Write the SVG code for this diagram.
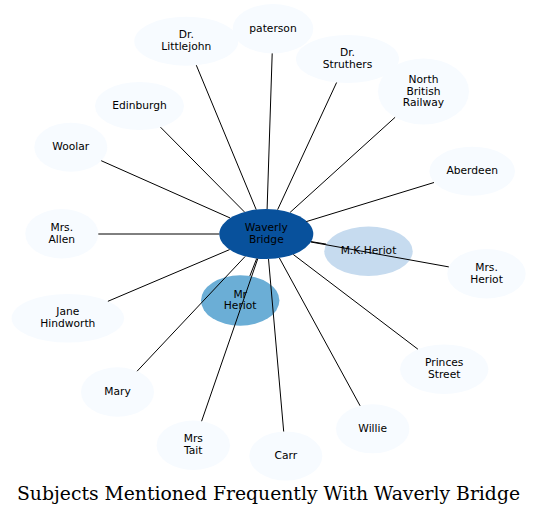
<svg xmlns="http://www.w3.org/2000/svg" width="537" height="516" viewBox="0 0 537 516">
<style>
.n ellipse{fill:#f7fbff;stroke:none}
.n text{font-family:"DejaVu Sans",sans-serif;font-size:10.7px;fill:#000;text-anchor:middle}
#edges line{stroke:#000;stroke-width:1}
.title{font-family:"DejaVu Serif",serif;font-size:18px;fill:#000;text-anchor:middle}
</style>
<rect width="537" height="516" fill="#fff"/>
<g id="n_littlejohn" class="n"><ellipse cx="186.3" cy="41.2" rx="52" ry="24.5"/><text x="186.3" y="38.3">Dr.</text><text x="186.3" y="50">Littlejohn</text></g>
<g id="n_paterson" class="n"><ellipse cx="273" cy="28.7" rx="40.3" ry="24.7"/><text x="273" y="31.7">paterson</text></g>
<g id="n_struthers" class="n"><ellipse cx="347.5" cy="59" rx="51.5" ry="24"/><text x="347.5" y="56.1">Dr.</text><text x="347.5" y="67.8">Struthers</text></g>
<g id="n_nbr" class="n"><ellipse cx="423.5" cy="91.5" rx="45.5" ry="33"/><text x="423.5" y="82.8">North</text><text x="423.5" y="94.5">British</text><text x="423.5" y="106.2">Railway</text></g>
<g id="n_edinburgh" class="n"><ellipse cx="139.5" cy="106" rx="44.5" ry="24"/><text x="139.5" y="109">Edinburgh</text></g>
<g id="n_woolar" class="n"><ellipse cx="70.8" cy="147.2" rx="36.5" ry="24.5"/><text x="70.8" y="150.2">Woolar</text></g>
<g id="n_aberdeen" class="n"><ellipse cx="472.2" cy="171.2" rx="42.8" ry="24.5"/><text x="472.2" y="174.2">Aberdeen</text></g>
<g id="n_allen" class="n"><ellipse cx="61.8" cy="233.7" rx="36.5" ry="24.7"/><text x="61.8" y="230.8">Mrs.</text><text x="61.8" y="242.5">Allen</text></g>
<g id="n_mrsheriot" class="n"><ellipse cx="486.5" cy="273.7" rx="39.2" ry="24.7"/><text x="486.5" y="270.8">Mrs.</text><text x="486.5" y="282.5">Heriot</text></g>
<g id="n_hindworth" class="n"><ellipse cx="67.8" cy="318.3" rx="56.2" ry="24.3"/><text x="67.8" y="315.4">Jane</text><text x="67.8" y="327.1">Hindworth</text></g>
<g id="n_princes" class="n"><ellipse cx="444.2" cy="369.2" rx="44.2" ry="24.8"/><text x="444.2" y="366.3">Princes</text><text x="444.2" y="378">Street</text></g>
<g id="n_mary" class="n"><ellipse cx="117.5" cy="392" rx="36.5" ry="24.7"/><text x="117.5" y="395">Mary</text></g>
<g id="n_willie" class="n"><ellipse cx="372.7" cy="428.8" rx="36.7" ry="24.5"/><text x="372.7" y="431.8">Willie</text></g>
<g id="n_tait" class="n"><ellipse cx="193.3" cy="445.3" rx="36.7" ry="24.7"/><text x="193.3" y="442.4">Mrs</text><text x="193.3" y="454.1">Tait</text></g>
<g id="n_carr" class="n"><ellipse cx="285.8" cy="456" rx="36.5" ry="24.5"/><text x="285.8" y="459">Carr</text></g>
<g id="n_mkheriot" class="n"><ellipse cx="368.5" cy="251.3" rx="44.2" ry="24.7" style="fill:#c6dbef"/><text x="368.5" y="254.3">M.K.Heriot</text></g>
<g id="n_mrheriot" class="n"><ellipse cx="240.2" cy="300.5" rx="39.2" ry="25.2" style="fill:#6baed6"/><text x="240.2" y="297.6">Mr</text><text x="240.2" y="309.3">Heriot</text></g>
<g id="n_waverly" class="n"><ellipse cx="266.3" cy="234" rx="47" ry="25" style="fill:#08519c"/><text x="266.3" y="231.1">Waverly</text><text x="266.3" y="242.8">Bridge</text></g>
<g id="edges">
<line x1="256.2" y1="209.6" x2="196.3" y2="65.2"/>
<line x1="267.1" y1="209" x2="272.2" y2="53.4"/>
<line x1="277.6" y1="209.7" x2="336.6" y2="82.5"/>
<line x1="290.1" y1="212.4" x2="395.1" y2="117.3"/>
<line x1="244.4" y1="211.9" x2="160.5" y2="127.2"/>
<line x1="230.2" y1="218" x2="101.2" y2="160.7"/>
<line x1="219.3" y1="234" x2="98.3" y2="234"/>
<line x1="229.6" y1="249.6" x2="107.9" y2="301.3"/>
<line x1="245.2" y1="256.4" x2="137.1" y2="371.2"/>
<line x1="257.8" y1="258.6" x2="201.6" y2="421.2"/>
<line x1="256.7" y1="258.5" x2="249.8" y2="276.1"/>
<line x1="268.5" y1="259" x2="283.7" y2="431.5"/>
<line x1="279.4" y1="258" x2="360.1" y2="405.8"/>
<line x1="293.3" y1="254.5" x2="417.9" y2="349.2"/>
<line x1="310.8" y1="242" x2="448.8" y2="266.9"/>
<line x1="311.1" y1="241.6" x2="326.2" y2="244.1"/>
<line x1="306.3" y1="221.6" x2="434" y2="182.5"/>
</g>
<text class="title" x="268.5" y="500" textLength="503" lengthAdjust="spacingAndGlyphs">Subjects Mentioned Frequently With Waverly Bridge</text>
</svg>
